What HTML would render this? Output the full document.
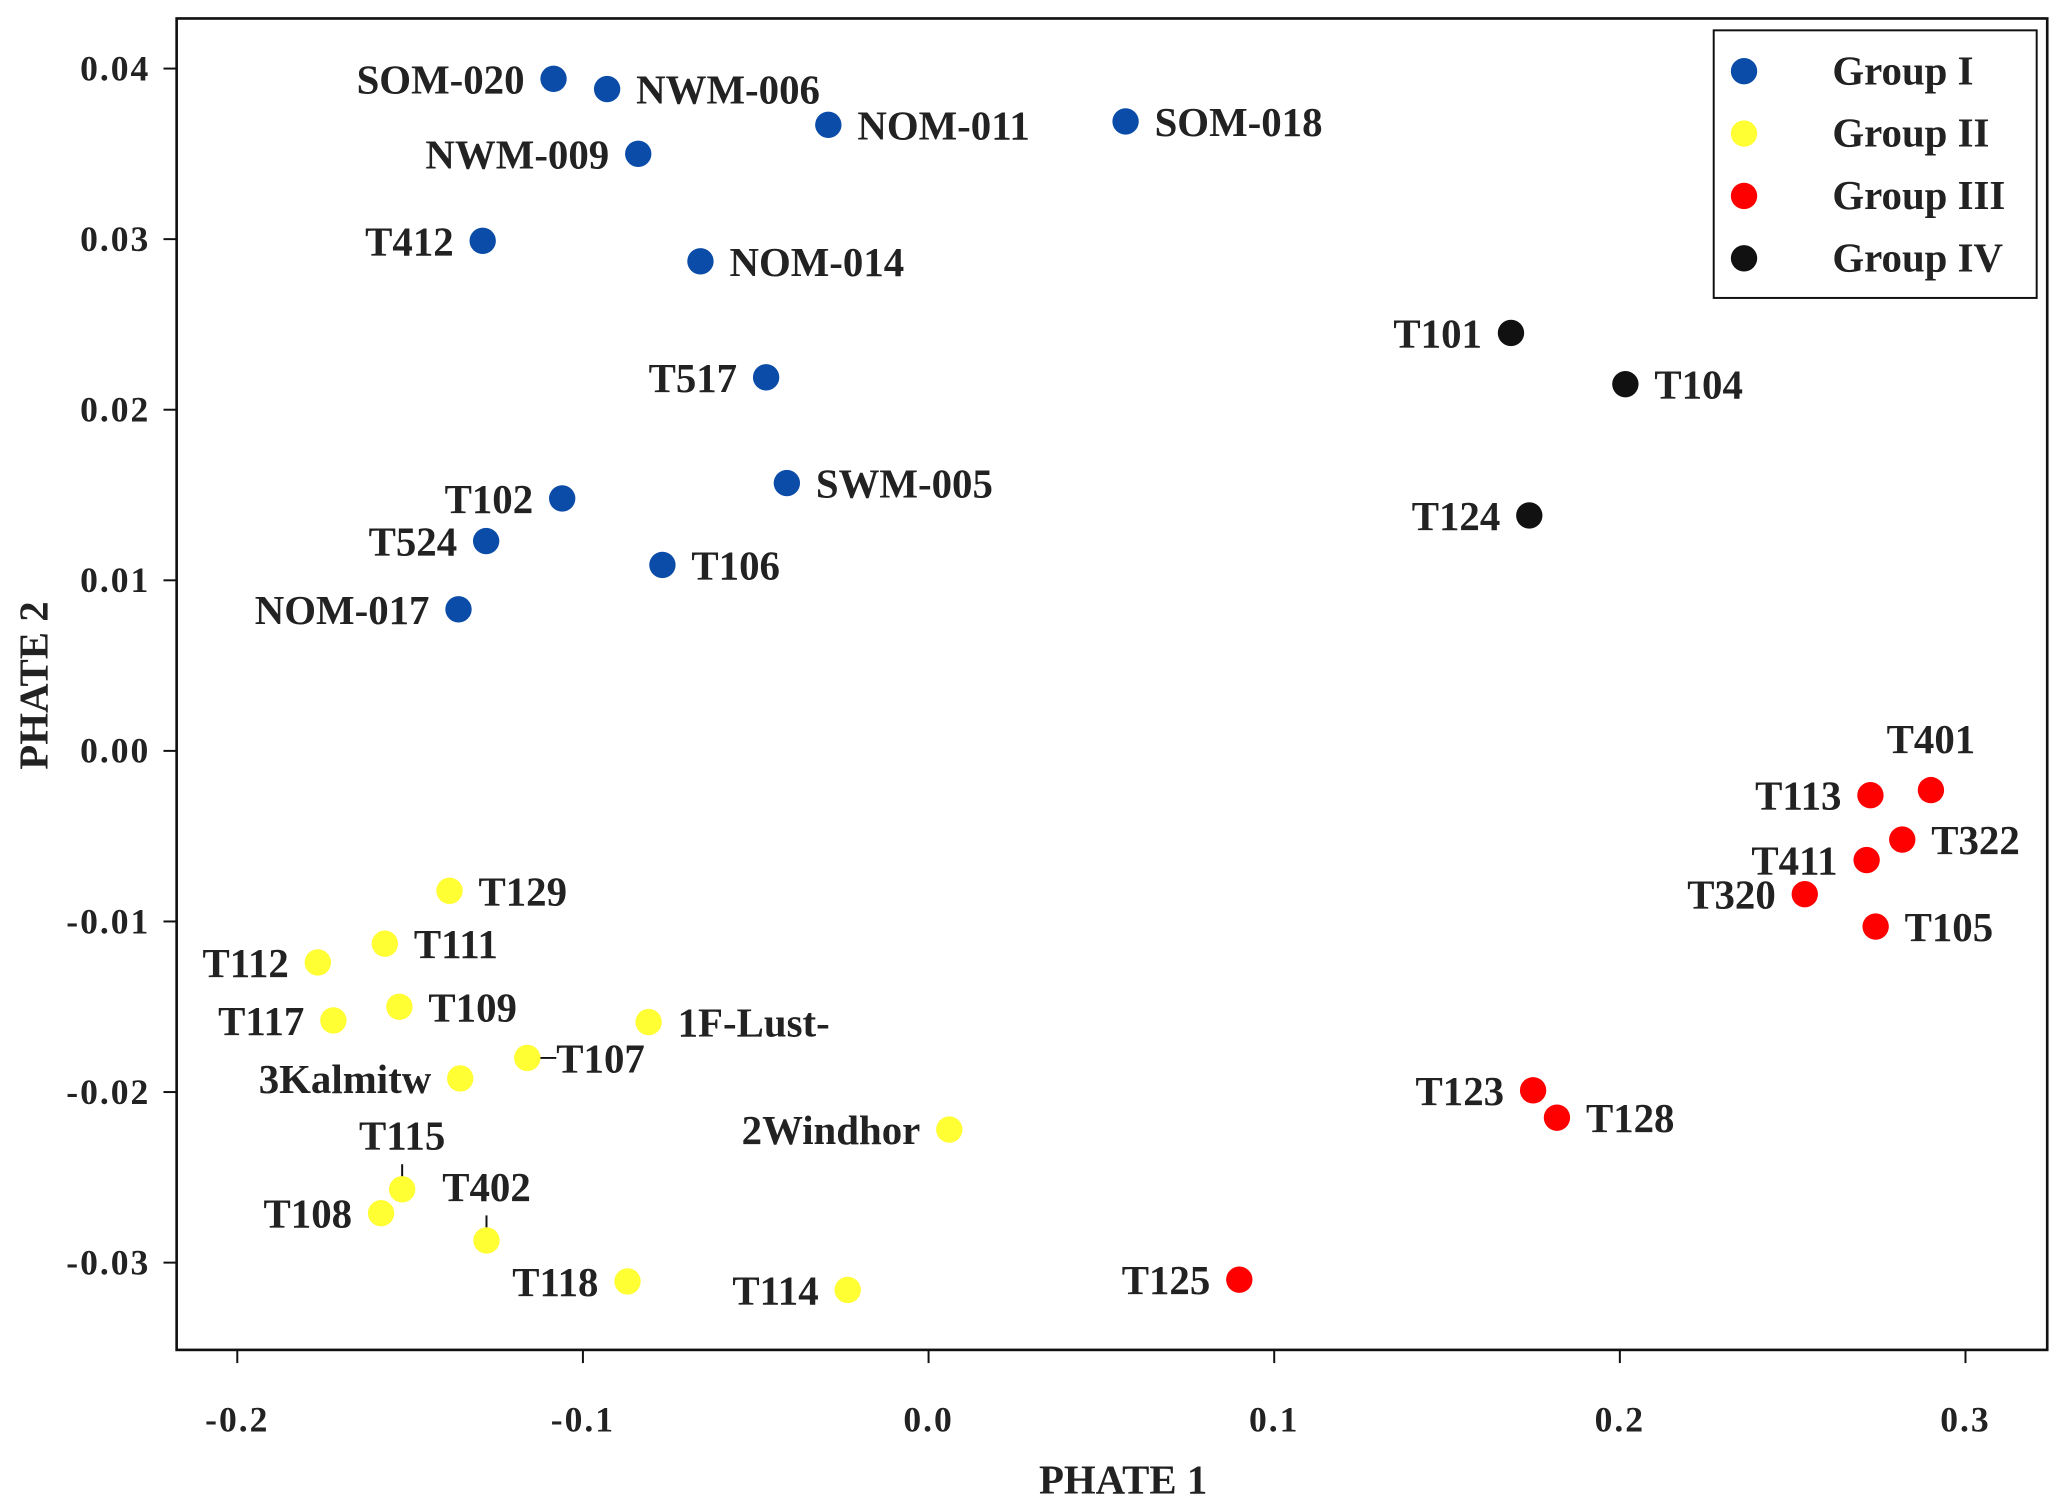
<!DOCTYPE html>
<html><head><meta charset="utf-8"><style>
html,body{margin:0;padding:0;background:#fff;}
svg{display:block;font-family:"Liberation Serif","Times New Roman",serif;font-weight:bold;}
</style></head><body>
<svg id="chart" width="2067" height="1511" viewBox="0 0 1568 1146.2" xmlns="http://www.w3.org/2000/svg">
<rect x="0" y="0" width="1568" height="1146.2" fill="#fff"/>
<g id="plot"></g>
</svg>
<script>
const names = ["SOM-020","NWM-006","NOM-011","SOM-018","NWM-009","T412","NOM-014","T517","SWM-005","T102","T524","T106","NOM-017",
"T129","T111","T112","T109","T117","1F-Lust-","T107","3Kalmitw","2Windhor","T115","T108","T402","T118","T114",
"T401","T113","T322","T411","T320","T105","T123","T128","T125",
"T101","T104","T124"];
const xValues = [-0.1085,-0.093,-0.029,0.057,-0.084,-0.129,-0.066,-0.047,-0.041,-0.106,-0.128,-0.077,-0.136,
-0.1386,-0.1573,-0.1767,-0.1531,-0.1722,-0.081,-0.1161,-0.1355,0.006,-0.1523,-0.1584,-0.1279,-0.0871,-0.0234,
0.290,0.2725,0.2817,0.2714,0.2535,0.274,0.1749,0.1818,0.0899,
0.1685,0.2016,0.1738];
const yValues = [0.0394,0.0388,0.0367,0.0369,0.0350,0.0299,0.0287,0.0219,0.0157,0.0148,0.0123,0.0109,0.0083,
-0.0082,-0.0113,-0.0124,-0.0150,-0.0158,-0.0159,-0.0180,-0.0192,-0.0222,-0.0257,-0.0271,-0.0287,-0.0311,-0.0316,
-0.0023,-0.0026,-0.0052,-0.0064,-0.0084,-0.0103,-0.0199,-0.0215,-0.0310,
0.0245,0.0215,0.0138];
const groups = [0,0,0,0,0,0,0,0,0,0,0,0,0, 1,1,1,1,1,1,1,1,1,1,1,1,1,1, 2,2,2,2,2,2,2,2,2, 3,3,3];
const labelSide = ["L","R","R","R","L","L","R","L","R","L","L","R","L",
"R","R","L","R","L","R","R7","L","L","U","L","U","L","L",
"T","L","R","L","L","R","L","R","L",
"L","R","L"];
const groupNames = ["Group I","Group II","Group III","Group IV"];
const xTicks = [-0.2,-0.1,0.0,0.1,0.2,0.3];
const xTickLabels = ["-0.2","-0.1","0.0","0.1","0.2","0.3"];
const yTicks = [0.04,0.03,0.02,0.01,0.00,-0.01,-0.02,-0.03];
const yTickLabels = ["0.04","0.03","0.02","0.01","0.00","-0.01","-0.02","-0.03"];

const colors = ["#0a4ca8","#ffff33","#ff0000","#111111"];
const L=134,T=14,R=1553,B=1024;
function xs(v){return 180+(v+0.2)*2622;}
function ys(v){return 52+(0.04-v)*12940;}
const NS="http://www.w3.org/2000/svg";
const g=document.getElementById('plot');
function mk(tag,attrs,parent){const e=document.createElementNS(NS,tag);for(const k in attrs)e.setAttribute(k,attrs[k]);(parent||g).appendChild(e);return e;}

const frame=mk('rect',{x:L,y:T,width:R-L,height:B-T,fill:'none',stroke:'#111','stroke-width':2});



xTicks.forEach((t,i)=>{
  const x=xs(t);
  const tk=mk('line',{x1:x,x2:x,y1:B,y2:B+10,stroke:'#111','stroke-width':1.5});
  
  
  const tl=mk('text',{x:x,y:B+62,'text-anchor':'middle','font-size':27,'letter-spacing':1.5,fill:'#222'});
  tl.textContent=xTickLabels[i];
  
  
});
yTicks.forEach((t,i)=>{
  const y=ys(t);
  const tk=mk('line',{x1:L-10,x2:L,y1:y,y2:y,stroke:'#111','stroke-width':1.5});
  
  
  const tl=mk('text',{x:L-20,y:y+9,'text-anchor':'end','font-size':27,'letter-spacing':1.5,fill:'#222'});
  tl.textContent=yTickLabels[i];
  
  
});
const xt=mk('text',{x:852,y:1133,'text-anchor':'middle','font-size':31,fill:'#222'});
xt.textContent='PHATE 1';


const yt=mk('text',{x:0,y:0,'text-anchor':'middle','font-size':31,fill:'#222',transform:'translate(36,520) rotate(-90)'});
yt.textContent='PHATE 2';



names.forEach((n,i)=>{
  const cx=xs(xValues[i]),cy=ys(yValues[i]);
  const side=labelSide[i];
  let tx,ty,anchor;
  if(side==='L'){tx=cx-22;ty=cy+11;anchor='end';}
  else if(side==='R'){tx=cx+22;ty=cy+11;anchor='start';}
  else if(side==='R7'){tx=cx+22;ty=cy+11;anchor='start';
    const ln=mk('line',{x1:cx,x2:cx+22,y1:cy,y2:cy,stroke:'#111','stroke-width':1.5});
    
    }
  else if(side==='U'){tx=cx;ty=cy-30;anchor='middle';
    const ln=mk('line',{x1:cx,x2:cx,y1:cy-19,y2:cy,stroke:'#111','stroke-width':1.5});
    
    }
  else {tx=cx;ty=cy-28;anchor='middle';}
  const c=mk('circle',{cx:cx,cy:cy,r:10,fill:colors[groups[i]]});
  
  
  const t=mk('text',{x:tx,y:ty,'text-anchor':anchor,'font-size':31,fill:'#222'});
  t.textContent=n;
  
  
});

const lg=mk('rect',{x:1300,y:23,width:245,height:203,fill:'#fff',stroke:'#111','stroke-width':1.5});


groupNames.forEach((gn,i)=>{
  const y=54+i*47.3;
  const m=mk('circle',{cx:1323,cy:y,r:10,fill:colors[i]});
  
  
  const t=mk('text',{x:1390,y:y+10,'font-size':31,fill:'#222'});
  t.textContent=gn;
  
  
});
</script>
</body></html>
